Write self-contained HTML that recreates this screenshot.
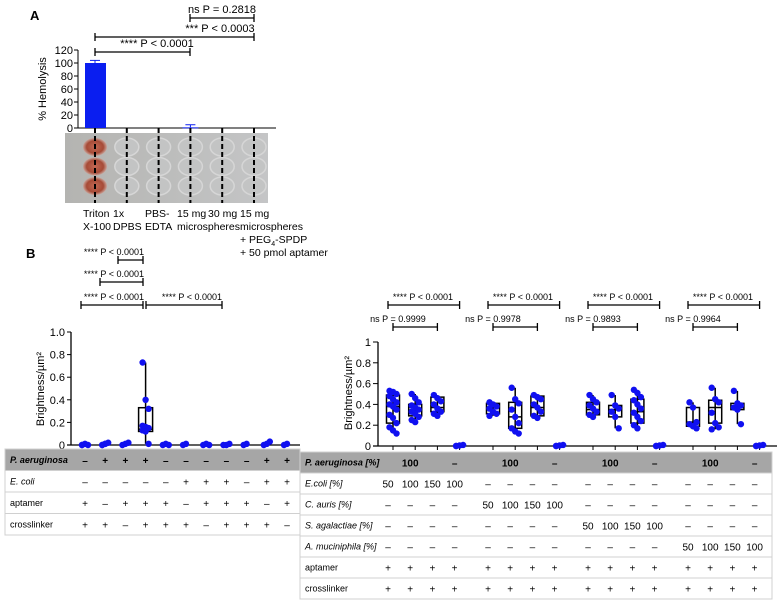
<!DOCTYPE html>
<html><head><meta charset="utf-8"><style>
body{margin:0;background:#fff;}
svg{display:block;font-family:"Liberation Sans",Arial,sans-serif;}
</style></head><body>
<svg id="fig" width="783" height="607" viewBox="0 0 783 607">
<defs>
<linearGradient id="plate" x1="0" x2="1" y1="0" y2="0"><stop offset="0" stop-color="#b4b4b1"/><stop offset="1" stop-color="#c4c5c6"/></linearGradient>
<radialGradient id="red"><stop offset="0" stop-color="#c26a55"/><stop offset="0.7" stop-color="#a64a36"/><stop offset="1" stop-color="#c9a49a"/></radialGradient>
</defs>
<g id="panelA"></g>
<g id="panelBL"></g>
<g id="panelBR"></g>
</svg>
<script>
// ---------- Panel A data ----------
const hemoCats = ["Triton X-100","1x DPBS","PBS-EDTA","15 mg microspheres","30 mg","15 mg microspheres + PEG4-SPDP"];
const hemoVals = [100, 0, 0, 1, 0, 0];
const hemoErr = [4, 0, 0, 4, 0, 0];
const hemoTicks = [0,20,40,60,80,100,120];
// ---------- Panel B left data ----------
const leftCats = [1,2,3,4,5,6,7,8,9,10,11];
const leftPoints = [[0,0.01,0,0],[0,0.01,0.02,0,0.01],[0,0.01,0.02],[0.73,0.40,0.32,0.17,0.16,0.15,0.13,0.12,0.01],[0,0.01,0],[0,0.01],[0,0.01,0],[0,0,0.01],[0,0.01],[0,0.01,0.03],[0,0.01]];
const leftBox = [null,null,null,[0.01,0.12,0.14,0.33,0.73],null,null,null,null,null,null,null];
const leftTicks = [0,0.2,0.4,0.6,0.8,1.0];
const leftRows = [["P. aeruginosa",["–","+","+","+","–","–","–","–","–","+","+"]],["E. coli",["–","–","–","–","–","+","+","+","–","+","+"]],["aptamer",["+","–","+","+","+","–","+","+","+","–","+"]],["crosslinker",["+","+","–","+","+","+","–","+","+","+","–"]]];
// ---------- Panel B right data ----------
const rightPoints = [
 [0.53,0.52,0.50,0.48,0.45,0.42,0.40,0.38,0.35,0.30,0.27,0.22,0.18,0.15,0.12],
 [0.50,0.46,0.42,0.39,0.37,0.35,0.33,0.31,0.28,0.25,0.23],
 [0.49,0.46,0.43,0.40,0.36,0.33,0.31,0.29],
 [0,0.005,0.01,0],
 [0.42,0.40,0.38,0.36,0.33,0.31,0.29],
 [0.56,0.45,0.41,0.35,0.28,0.22,0.17,0.14,0.12],
 [0.49,0.47,0.45,0.40,0.37,0.33,0.29,0.27],
 [0,0.005,0.01,0],
 [0.49,0.45,0.42,0.39,0.36,0.33,0.30,0.28],
 [0.49,0.39,0.36,0.33,0.28,0.17],
 [0.54,0.51,0.47,0.44,0.40,0.36,0.32,0.28,0.24,0.20,0.17],
 [0,0.005,0.01,0],
 [0.42,0.37,0.23,0.21,0.19,0.17],
 [0.56,0.45,0.42,0.32,0.22,0.18,0.16],
 [0.53,0.41,0.39,0.37,0.35,0.21],
 [0,0.005,0.01,0]];
const rightBox = [[0.12,0.22,0.38,0.49,0.53],[0.23,0.29,0.34,0.40,0.50],[0.29,0.33,0.37,0.47,0.49],null,
 [0.29,0.31,0.37,0.41,0.42],[0.12,0.17,0.28,0.42,0.56],[0.27,0.29,0.37,0.48,0.49],null,
 [0.28,0.30,0.35,0.42,0.49],[0.17,0.28,0.35,0.39,0.49],[0.16,0.22,0.33,0.45,0.54],null,
 [0.17,0.19,0.23,0.37,0.42],[0.16,0.22,0.37,0.44,0.56],[0.21,0.35,0.37,0.41,0.53],null];
const rightTicks = [0,0.2,0.4,0.6,0.8,1];
const rightTickLabels = ["0","0.2","0.4","0.6","0.8","1"];
const rightNs = ["ns P = 0.9999","ns P = 0.9978","ns P = 0.9893","ns P = 0.9964"];

const NS="http://www.w3.org/2000/svg";
function mk(parent,tag,attrs,text){const e=document.createElementNS(NS,tag);for(const k in attrs)e.setAttribute(k,attrs[k]);if(text!==undefined)e.textContent=text;parent.appendChild(e);return e;}

// ===== Panel A =====
const A=document.getElementById('panelA');
const ayA=v=>128-v*(78/120);
const axA=i=>95+i*31.8;
let t=mk(A,'text',{x:30,y:20,'font-size':13,'font-weight':'bold'},'A');


// plate photo
let g=mk(A,'g',{});


mk(g,'rect',{x:65,y:133,width:203,height:70,fill:'url(#plate)'});
for(let r=0;r<3;r++){for(let c=0;c<6;c++){const cx=axA(c),cy=147+r*19.5;
 if(c===0) mk(g,'ellipse',{cx:cx,cy:cy,rx:12,ry:9,fill:'url(#red)'});
 else mk(g,'ellipse',{cx:cx,cy:cy,rx:12,ry:9,fill:'#c3c4c4',stroke:'#d6d6d6','stroke-width':1.5});}}
// axes
mk(A,'line',{x1:78,y1:ayA(0),x2:78,y2:ayA(120),stroke:'#000','stroke-width':1});
mk(A,'line',{x1:74,y1:128,x2:276,y2:128,stroke:'#000','stroke-width':1});
hemoTicks.forEach(v=>{mk(A,'line',{x1:74,y1:ayA(v),x2:78,y2:ayA(v),stroke:'#000'});
 const tl=mk(A,'text',{x:73,y:ayA(v)+4,'font-size':11,'text-anchor':'end'},String(v));
 
 });
t=mk(A,'text',{x:0,y:0,'font-size':11,'text-anchor':'middle',transform:'translate(46,89) rotate(-90)'},'% Hemolysis');


hemoVals.forEach((v,i)=>{const x=axA(i);
 if(v>0){const b=mk(A,'rect',{x:x-(i===0?10:8),y:ayA(v),width:i===0?21:16,height:Math.max(1,128-ayA(v)),fill:'#0a1ef0'});
 
 }
 if(hemoErr[i]>0){mk(A,'line',{x1:x,y1:ayA(v),x2:x,y2:ayA(v+hemoErr[i]),stroke:'#0a1ef0'});
 mk(A,'line',{x1:x-5,y1:ayA(v+hemoErr[i]),x2:x+5,y2:ayA(v+hemoErr[i]),stroke:'#0a1ef0'});}
 mk(A,'line',{x1:x,y1:128,x2:x,y2:203,stroke:'#000','stroke-width':2,'stroke-dasharray':'5,3'});
});
// category labels (start x positions)
const aLab=[[83,"Triton","X-100"],[113,"1x","DPBS"],[145,"PBS-","EDTA"],[177,"15 mg","microspheres"],[208,"30 mg",""],[240,"15 mg","microspheres"]];
aLab.forEach(l=>{
 const tl=mk(A,'text',{x:l[0],y:217,'font-size':10.5});
 
 
 mk(tl,'tspan',{x:l[0]+(l[0]===177?0:0),dy:0},l[1]);mk(tl,'tspan',{x:l[0],dy:13},l[2]);});
t=mk(A,'text',{x:240,y:243,'font-size':10.5},'+ PEG');
mk(t,'tspan',{'font-size':7,dy:3},'4');mk(t,'tspan',{dy:-3},'-SPDP');


t=mk(A,'text',{x:240,y:256,'font-size':10.5},'+ 50 pmol aptamer');


function bracket(P,x1,x2,y,label,tx,anchor,fs){mk(P,'line',{x1:x1,y1:y,x2:x2,y2:y,stroke:'#000','stroke-width':1.3});
 mk(P,'line',{x1:x1,y1:y-4,x2:x1,y2:y+4,stroke:'#000','stroke-width':1.3});mk(P,'line',{x1:x2,y1:y-4,x2:x2,y2:y+4,stroke:'#000','stroke-width':1.3});
 const tt=mk(P,'text',{x:tx,y:y-5,'font-size':fs||11,'text-anchor':anchor||'middle'},label);
 
 }
bracket(A,95,190,52,'**** P < 0.0001',157);
bracket(A,95,254,37,'*** P < 0.0003',220);
bracket(A,190,254,18,'ns P = 0.2818',222);

// ===== Panel B left =====
const L=document.getElementById('panelBL');
const ayL=v=>445-v*113;
const axL=i=>85+i*20.2;
t=mk(L,'text',{x:26,y:258,'font-size':13,'font-weight':'bold'},'B');


bracket(L,118,143,260,'**** P < 0.0001',114,'middle',9);
bracket(L,100,143,282,'**** P < 0.0001',114,'middle',9);
bracket(L,81,143,305,'**** P < 0.0001',114,'middle',9);
bracket(L,146,222,305,'**** P < 0.0001',192,'middle',9);
mk(L,'line',{x1:71,y1:ayL(0),x2:71,y2:ayL(1),stroke:'#000','stroke-width':1.3});
mk(L,'line',{x1:67,y1:445,x2:300,y2:445,stroke:'#000','stroke-width':1.3});
leftTicks.forEach(v=>{mk(L,'line',{x1:67,y1:ayL(v),x2:71,y2:ayL(v),stroke:'#000'});
 const tl=mk(L,'text',{x:65,y:ayL(v)+4,'font-size':11,'text-anchor':'end'},v===0?'0':v.toFixed(1));
 
 });
t=mk(L,'text',{x:0,y:0,'font-size':11,'text-anchor':'middle',transform:'translate(44,389) rotate(-90)'},'Brightness/µm²');


function drawBox(P,x,b,hw){mk(P,'line',{x1:x,y1:b.y(b.v[0]),x2:x,y2:b.y(b.v[4]),stroke:'#000','stroke-width':1.5});
 const r=mk(P,'rect',{x:x-hw,y:b.y(b.v[3]),width:2*hw,height:b.y(b.v[1])-b.y(b.v[3]),fill:'none',stroke:'#000','stroke-width':1.5});
 
 
 mk(P,'line',{x1:x-hw,y1:b.y(b.v[2]),x2:x+hw,y2:b.y(b.v[2]),stroke:'#000','stroke-width':1.5});}
leftCats.forEach((c,i)=>{const x=axL(i);
 if(leftBox[i]) drawBox(L,x,{y:ayL,v:leftBox[i]},7);
 leftPoints[i].forEach((v,j)=>{const p=mk(L,'circle',{cx:x+((j%3)-1)*3,cy:ayL(v),r:3.2,fill:'#1010f0'});
 
 });});
// tables
function table(P,x0,x1,y0,rh,rows,colX,italicRows,fs){
 rows.forEach((r,ri)=>{const y=y0+ri*rh;
  mk(P,'rect',{x:x0,y:y,width:x1-x0,height:rh,fill:ri===0?'#a6a6a6':'#fff',stroke:'#d0d0d0','stroke-width':1});
  const lt=mk(P,'text',{x:x0+5,y:y+rh/2+3,'font-size':fs,'font-style':italicRows[ri]?'italic':'normal','font-weight':ri===0?'bold':'normal'},r[0]);
  
  
  r[1].forEach((s,ci)=>{if(s===null)return;const ct=mk(P,'text',{x:colX(ci),y:y+rh/2+4,'font-size':10,'text-anchor':'middle','font-weight':ri===0?'bold':'normal'},s);
   
   });});}
table(L,5,300,449,21.5,leftRows,axL,[true,true,false,false],9);

// ===== Panel B right =====
const R=document.getElementById('panelBR');
const ayR=v=>446-v*104;
const axR=i=>393+Math.floor(i/4)*100+(i%4)*22.2;
mk(R,'line',{x1:378,y1:ayR(0),x2:378,y2:ayR(1),stroke:'#000','stroke-width':1.3});
mk(R,'line',{x1:373,y1:446,x2:777,y2:446,stroke:'#000','stroke-width':1.3});
rightTicks.forEach((v,k)=>{mk(R,'line',{x1:373,y1:ayR(v),x2:378,y2:ayR(v),stroke:'#000'});
 const tl=mk(R,'text',{x:371,y:ayR(v)+4,'font-size':11,'text-anchor':'end'},rightTickLabels[k]);
 
 });
for(let i=0;i<16;i++){mk(R,'line',{x1:axR(i),y1:446,x2:axR(i),y2:450,stroke:'#000'});}
t=mk(R,'text',{x:0,y:0,'font-size':11,'text-anchor':'middle',transform:'translate(352,393) rotate(-90)'},'Brightness/µm²');


rightPoints.forEach((pts,i)=>{const x=axR(i);
 if(rightBox[i]) drawBox(R,x,{y:ayR,v:rightBox[i]},6.5);
 pts.forEach((v,j)=>{const p=mk(R,'circle',{cx:x+((j%3)-1)*3.5,cy:ayR(v),r:3.2,fill:'#1010f0'});
 
 });});
for(let gi=0;gi<4;gi++){const a=axR(gi*4);
 bracket(R,a-5,axR(gi*4+3),305,'**** P < 0.0001',a+30,'middle',9);
 bracket(R,a,axR(gi*4+2),327,rightNs[gi],a+(gi===0?5:0),'middle',9);}
const d="–";
const rightRows=[
 ["P. aeruginosa [%]",[null,"100",null,d,null,"100",null,d,null,"100",null,d,null,"100",null,d]],
 ["E.coli [%]",["50","100","150","100",d,d,d,d,d,d,d,d,d,d,d,d]],
 ["C. auris [%]",[d,d,d,d,"50","100","150","100",d,d,d,d,d,d,d,d]],
 ["S. agalactiae [%]",[d,d,d,d,d,d,d,d,"50","100","150","100",d,d,d,d]],
 ["A. muciniphila [%]",[d,d,d,d,d,d,d,d,d,d,d,d,"50","100","150","100"]],
 ["aptamer",Array(16).fill("+")],["crosslinker",Array(16).fill("+")]];
table(R,300,772,452,21,rightRows,i=>axR(i)-5,[true,true,true,true,true,false,false],9);
</script>
</body></html>
